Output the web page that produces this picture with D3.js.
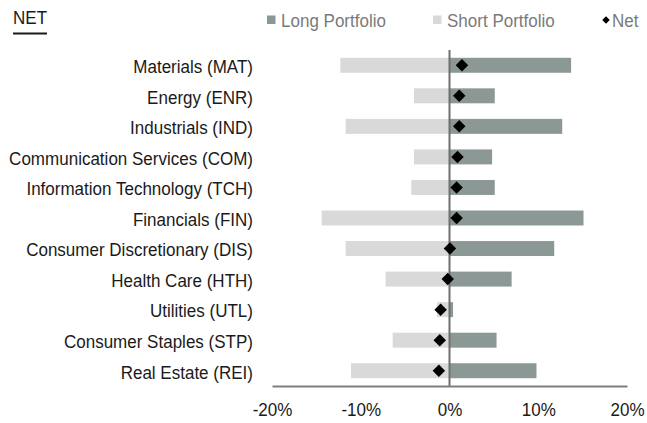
<!DOCTYPE html>
<html lang="en">
<head>
    <meta charset="UTF-8">
    <title>Net Exposure by Sector</title>
    <style>
        body { margin: 0; background: #fff; }
        svg text { font-family: "Liberation Sans", Arial, sans-serif; }
    </style>
</head>
<body>
    <div id="chart"></div>
    <script src="https://d3js.org/d3.v7.min.js"></script>
    <script>
        // sectors, top to bottom
        const sectors = [
            "Materials (MAT)", "Energy (ENR)", "Industrials (IND)",
            "Communication Services (COM)", "Information Technology (TCH)",
            "Financials (FIN)", "Consumer Discretionary (DIS)", "Health Care (HTH)",
            "Utilities (UTL)", "Consumer Staples (STP)", "Real Estate (REI)"
        ];
        // exposures in %
        const longPortfolio  = [13.7, 5.1, 12.7, 4.8, 5.1, 15.1, 11.8, 7.0, 0.4, 5.3, 9.8];
        const shortPortfolio = [-12.3, -4.0, -11.7, -4.0, -4.3, -14.4, -11.7, -7.2, -1.4, -6.4, -11.1];
        const netExposure    = [1.4, 1.1, 1.1, 0.9, 0.8, 0.8, 0.05, -0.2, -1.0, -1.1, -1.2];
        const xTicks = [-20, -10, 0, 10, 20];

        const width = 647, height = 423;
        const fontSize = 18.5, squeeze = 0.92; // tall, narrow text like the original

        const svg = d3.select("#chart").append("svg")
            .attr("width", width)
            .attr("height", height);

        const x = d3.scaleLinear().domain([-20, 20]).range([272, 627]);
        const y = d3.scaleBand().domain(sectors).range([50, 386]).paddingInner(0.51).paddingOuter(0.255);

        const rows = sectors.map((s, i) => ({
            name: s, long: longPortfolio[i], short: shortPortfolio[i], net: netExposure[i]
        }));

        // short bars
        svg.append("g").selectAll("rect")
            .data(rows).join("rect")
            .attr("x", d => x(d.short))
            .attr("y", d => y(d.name))
            .attr("width", d => x(0) - x(d.short))
            .attr("height", y.bandwidth())
            .attr("fill", "#d9d9d9");

        // long bars
        svg.append("g").selectAll("rect")
            .data(rows).join("rect")
            .attr("x", x(0))
            .attr("y", d => y(d.name))
            .attr("width", d => x(d.long) - x(0))
            .attr("height", y.bandwidth())
            .attr("fill", "#8c9895");

        // zero line
        svg.append("line")
            .attr("x1", x(0)).attr("x2", x(0))
            .attr("y1", 50).attr("y2", 386)
            .attr("stroke", "#6e6e6e")
            .attr("stroke-width", 2);

        // x axis
        const xAxis = svg.append("g")
            .attr("transform", "translate(0,386)")
            .call(d3.axisBottom(x).tickValues(xTicks).tickSize(0).tickPadding(17)
                .tickFormat(d => d + "%"));
        xAxis.select(".domain").attr("stroke", "#7f7f7f").attr("stroke-width", 2);
        xAxis.selectAll("text")
            .attr("font-size", fontSize)
            .attr("font-family", "Liberation Sans, Arial, sans-serif")
            .attr("fill", "#1a1a1a")
            .attr("transform", `scale(${squeeze},1)`);

        // y labels
        svg.append("g").selectAll("text")
            .data(rows).join("text")
            .attr("transform", d => `translate(253,${y(d.name) + y.bandwidth() / 2}) scale(${squeeze},1)`)
            .attr("dy", "0.42em")
            .attr("text-anchor", "end")
            .attr("font-size", fontSize)
            .attr("fill", "#1a1a1a")
            .text(d => d.name);

        // net diamonds
        const diamond = d3.symbol().type(d3.symbolSquare).size(78);
        svg.append("g").selectAll("path")
            .data(rows).join("path")
            .attr("d", diamond)
            .attr("transform", d => `translate(${x(d.net)},${y(d.name) + y.bandwidth() / 2}) rotate(45)`)
            .attr("fill", "#000");

        // title
        svg.append("text")
            .attr("transform", `translate(13,24) scale(${squeeze},1)`)
            .attr("font-size", fontSize)
            .attr("fill", "#1a1a1a")
            .text("NET");
        svg.append("line")
            .attr("x1", 13).attr("x2", 47)
            .attr("y1", 33.5).attr("y2", 33.5)
            .attr("stroke", "#1a1a1a").attr("stroke-width", 2);

        // legend
        const legend = svg.append("g").attr("font-size", fontSize).attr("fill", "#7a7a7a");
        legend.append("rect").attr("x", 267).attr("y", 15.5).attr("width", 8.5).attr("height", 8.5).attr("fill", "#8c9895");
        legend.append("text").attr("transform", `translate(281,26.5) scale(${squeeze},1)`).text("Long Portfolio");
        legend.append("rect").attr("x", 433).attr("y", 15.5).attr("width", 8.5).attr("height", 8.5).attr("fill", "#d9d9d9");
        legend.append("text").attr("transform", `translate(447,26.5) scale(${squeeze},1)`).text("Short Portfolio");
        legend.append("path")
            .attr("d", d3.symbol().type(d3.symbolSquare).size(28))
            .attr("transform", "translate(606,20) rotate(45)")
            .attr("fill", "#000");
        legend.append("text").attr("transform", `translate(612,26.5) scale(${squeeze},1)`).text("Net");
    </script>
</body>
</html>
